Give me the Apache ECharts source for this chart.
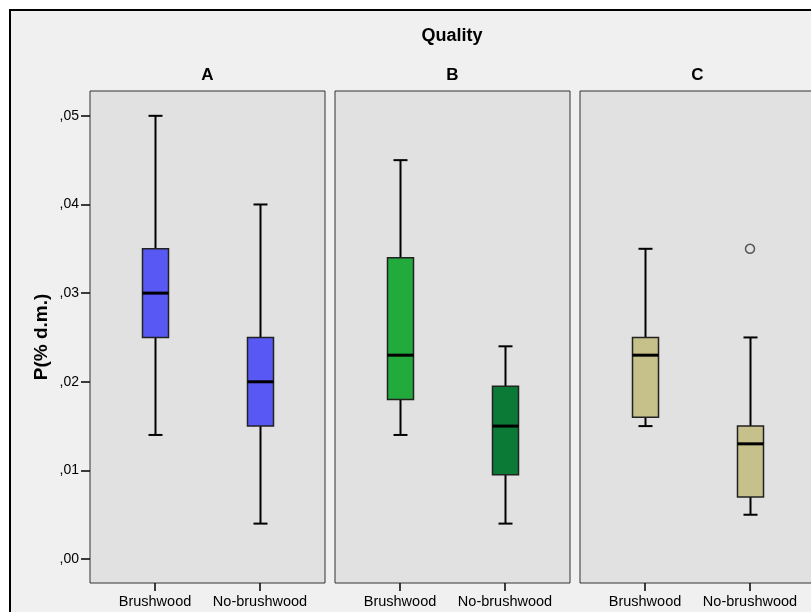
<!DOCTYPE html>
<html>
<head>
<meta charset="utf-8">
<script src="https://cdn.jsdelivr.net/npm/echarts@6/dist/echarts.min.js"></script>
<style>
  html, body { margin: 0; padding: 0; background: #fff; }
  #chart { width: 811px; height: 612px; }
</style>
</head>
<body>
<div id="chart"></div>
<script>
const categories = ['Brushwood', 'No-brushwood'];
const panelNames = ['A', 'B', 'C'];
// each row: [min, Q1, median, Q3, max]
const statsA = [[0.014, 0.025, 0.030, 0.035, 0.050], [0.004, 0.015, 0.020, 0.025, 0.040]];
const statsB = [[0.014, 0.018, 0.023, 0.034, 0.045], [0.004, 0.0095, 0.015, 0.0195, 0.024]];
const statsC = [[0.015, 0.016, 0.023, 0.025, 0.035], [0.005, 0.007, 0.013, 0.015, 0.025]];
// [category index, value]
const outliersC = [[1, 0.035]];
const yTicks = [0, 0.01, 0.02, 0.03, 0.04, 0.05];
const colorsA = ['#5858f4', '#5858f4'];
const colorsB = ['#22aa3c', '#0b7a37'];
const colorsC = ['#c6c08a', '#c6c08a'];

const FONT = '"Liberation Sans", Arial, sans-serif';
const panelLeft = [90, 335, 580];
const panelW = 235;
const allStats = [statsA, statsB, statsC];
const allColors = [colorsA, colorsB, colorsC];

function boxRender(colors) {
  return function (params, api) {
    const x = api.value(0);
    const pMin = api.coord([x, api.value(1)]);
    const pQ1 = api.coord([x, api.value(2)]);
    const pMed = api.coord([x, api.value(3)]);
    const pQ3 = api.coord([x, api.value(4)]);
    const pMax = api.coord([x, api.value(5)]);
    const cx = Math.round(pMed[0]) + 0.5;
    const hw = 13, cw = 7;
    const line = (x1, y1, x2, y2, w) => ({
      type: 'line',
      shape: { x1: x1, y1: y1, x2: x2, y2: y2 },
      style: { stroke: '#000', lineWidth: w }
    });
    return {
      type: 'group',
      children: [
        line(cx, pMax[1], cx, pQ3[1], 2),
        line(cx, pQ1[1], cx, pMin[1], 2),
        line(cx - cw, pMax[1], cx + cw, pMax[1], 2),
        line(cx - cw, pMin[1], cx + cw, pMin[1], 2),
        {
          type: 'rect',
          shape: { x: cx - hw, y: pQ3[1], width: hw * 2, height: pQ1[1] - pQ3[1] },
          style: { fill: colors[params.dataIndex], stroke: '#222', lineWidth: 1.5 }
        },
        line(cx - hw, pMed[1], cx + hw, pMed[1], 3)
      ]
    };
  };
}

const grid = [], xAxis = [], yAxis = [], series = [];
panelNames.forEach(function (name, i) {
  grid.push({
    left: panelLeft[i], width: panelW, top: 91, bottom: 29,
    outerBoundsMode: 'none', containLabel: false,
    show: true, backgroundColor: '#e1e1e1', borderColor: '#333', borderWidth: 1
  });
  xAxis.push({
    type: 'value', gridIndex: i, min: -0.619, max: 1.619,
    splitLine: { show: false },
    axisLine: { show: false, onZero: false },
    axisTick: { show: true, customValues: [0, 1], length: 8, lineStyle: { color: '#000', width: 1.5 } },
    axisLabel: {
      customValues: [0, 1], margin: 11, color: '#000', fontSize: 14.5, fontFamily: FONT,
      formatter: function (v) { return categories[Math.round(v)]; }
    }
  });
  const ya = {
    type: 'value', gridIndex: i, min: -0.0027, max: 0.0528,
    splitLine: { show: false },
    axisLine: { show: false, onZero: false },
    axisTick: { show: i === 0, customValues: yTicks, length: 9, lineStyle: { color: '#000', width: 1.5 } },
    axisLabel: {
      show: i === 0, customValues: yTicks, margin: 11, color: '#000', fontSize: 14, fontFamily: FONT,
      formatter: function (v) { return ',' + v.toFixed(2).split('.')[1]; }
    }
  };
  if (i === 0) {
    ya.name = 'P(% d.m.)';
    ya.nameLocation = 'middle';
    ya.nameGap = 39;
    ya.nameTextStyle = { color: '#000', fontSize: 19, fontWeight: 'bold', fontFamily: FONT };
  }
  yAxis.push(ya);
  series.push({
    type: 'custom', xAxisIndex: i, yAxisIndex: i,
    renderItem: boxRender(allColors[i]),
    encode: { x: 0, y: [1, 2, 3, 4, 5] },
    data: allStats[i].map(function (s, k) { return [k].concat(s); })
  });
});
series.push({
  type: 'scatter', xAxisIndex: 2, yAxisIndex: 2,
  symbol: 'circle', symbolSize: 9,
  itemStyle: { color: 'rgba(0,0,0,0)', borderColor: '#333', borderWidth: 1.5 },
  data: outliersC
});

const texts = [{ text: 'Quality', x: 452, y: 36, size: 18 }].concat(panelNames.map(function (n, i) {
  return { text: n, x: panelLeft[i] + panelW / 2, y: 75, size: 17 };
}));

const chart = echarts.init(document.getElementById('chart'));
chart.setOption({
  backgroundColor: '#fff',
  animation: false,
  graphic: [{
    type: 'rect', z: -10, silent: true,
    shape: { x: 10, y: 10, width: 900, height: 700 },
    style: { fill: '#f0f0f0', stroke: '#000', lineWidth: 2 }
  }].concat(texts.map(function (t) {
    return {
      type: 'text', x: t.x, y: t.y, silent: true,
      style: { text: t.text, fill: '#000', font: 'bold ' + t.size + 'px ' + FONT, align: 'center', verticalAlign: 'middle' }
    };
  })),
  grid: grid,
  xAxis: xAxis,
  yAxis: yAxis,
  series: series
});
</script>
</body>
</html>
